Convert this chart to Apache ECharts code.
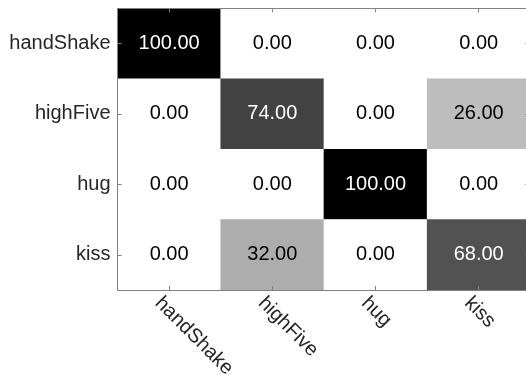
<!DOCTYPE html>
<html>
<head>
<meta charset="utf-8">
<script src="https://cdn.jsdelivr.net/npm/echarts@6/dist/echarts.min.js"></script>
<style>
html,body{margin:0;padding:0;background:#fff;}
#chart{width:526px;height:379px;}
</style>
</head>
<body>
<div id="chart"></div>
<script>
var categories = ['handShake', 'highFive', 'hug', 'kiss'];
var rowHandShake = [100, 0, 0, 0];
var rowHighFive = [0, 74, 0, 26];
var rowHug = [0, 0, 100, 0];
var rowKiss = [0, 32, 0, 68];
var rows = [rowHandShake, rowHighFive, rowHug, rowKiss];

var data = [];
rows.forEach(function (r, ri) {
  r.forEach(function (v, ci) {
    data.push({
      value: [ci, ri, v],
      label: { color: v > 50 ? '#ffffff' : '#000000' }
    });
  });
});

var FONT = "'Liberation Sans', Arial, Helvetica, sans-serif";
var axisColor = '#808080';

function catAxis(pos, showLabel, isY, tickLen) {
  var ax = {
    type: 'category',
    data: categories,
    position: pos,
    z: 5,
    axisLine: { show: true, lineStyle: { color: axisColor, width: 1 } },
    axisTick: { show: true, inside: true, alignWithLabel: true, length: tickLen || 4, lineStyle: { color: axisColor } },
    splitLine: { show: false },
    axisLabel: { show: showLabel, fontSize: 20, fontFamily: FONT, color: '#262626' }
  };
  if (isY) {
    ax.inverse = true;
    ax.axisLabel.margin = 7;
  } else {
    ax.axisLabel.rotate = -45;
    ax.axisLabel.margin = 21;
    ax.axisLabel.padding = [0, 0, 0, -15.5];
  }
  return ax;
}

var chart = echarts.init(document.getElementById('chart'), null, { renderer: 'canvas' });
chart.setOption({
  animation: false,
  backgroundColor: '#ffffff',
  grid: { left: 117.5, top: 8.3, width: 412.8, height: 281.7, containLabel: false, outerBoundsMode: 'none' },
  xAxis: [catAxis('bottom', true, false), catAxis('top', false, false)],
  yAxis: [catAxis('left', true, true), catAxis('right', false, true, 5)],
  visualMap: {
    show: false, min: 0, max: 100, dimension: 2,
    inRange: { color: ['#ffffff', '#000000'] }
  },
  series: [{
    type: 'heatmap',
    xAxisIndex: 0,
    yAxisIndex: 0,
    data: data,
    label: {
      show: true,
      fontSize: 20,
      fontFamily: FONT,
      formatter: function (p) { return p.value[2].toFixed(2); }
    },
    itemStyle: { borderWidth: 0 },
    emphasis: { disabled: true }
  }]
});
</script>
</body>
</html>
